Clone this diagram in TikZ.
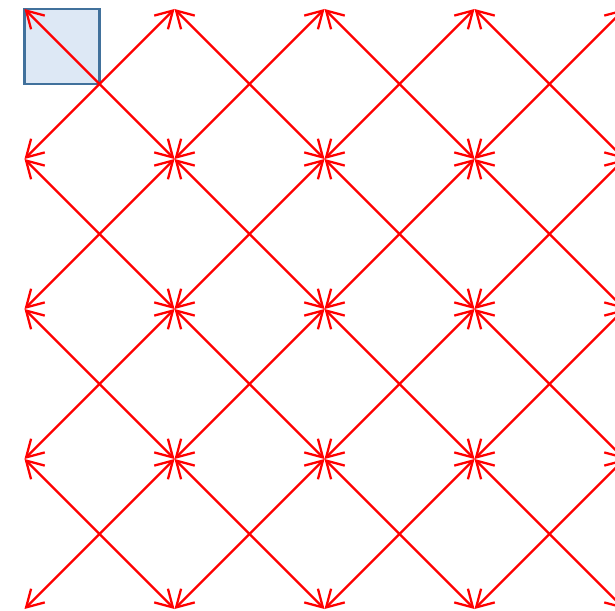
\documentclass[tikz,border=0pt]{standalone}
\usepackage{tikz}
\usetikzlibrary{arrows.meta,calc}
\definecolor{cellfill}{RGB}{221,232,245}
\definecolor{cellline}{RGB}{65,113,156}
\tikzset{arr/.style={draw=red,line width=1.3pt,-{Straight Barb[length=9.5pt,width=11pt,line width=1.3pt]}}}

\begin{document}
\begin{tikzpicture}
	\clip (0,0) rectangle (12.3,12.2);
	\useasboundingbox (0,0) rectangle (12.3,12.2);
	% corners and centres of the cells
	\foreach \i in {0,...,4}{\foreach \j in {0,...,4}{
		\coordinate (c-\i-\j) at (0.49+3*\i,0.02+3*\j);}}
	\foreach \i in {0,...,3}{\foreach \j in {0,...,3}{
		\coordinate (m-\i-\j) at (1.99+3*\i,1.52+3*\j);}}
	\draw[cellline,fill=cellfill,line width=1.3pt] (c-0-4) rectangle (m-0-3);
	% four arrows from each centre
	\foreach \i [evaluate=\i as \k using int(\i+1)] in {0,...,3}{
		\foreach \j [evaluate=\j as \l using int(\j+1)] in {0,...,3}{
			\draw[arr] (m-\i-\j) -- (c-\i-\j);
			\draw[arr] (m-\i-\j) -- (c-\k-\j);
			\draw[arr] (m-\i-\j) -- (c-\i-\l);
			\draw[arr] (m-\i-\j) -- (c-\k-\l);
	}}
\end{tikzpicture}
\end{document}
